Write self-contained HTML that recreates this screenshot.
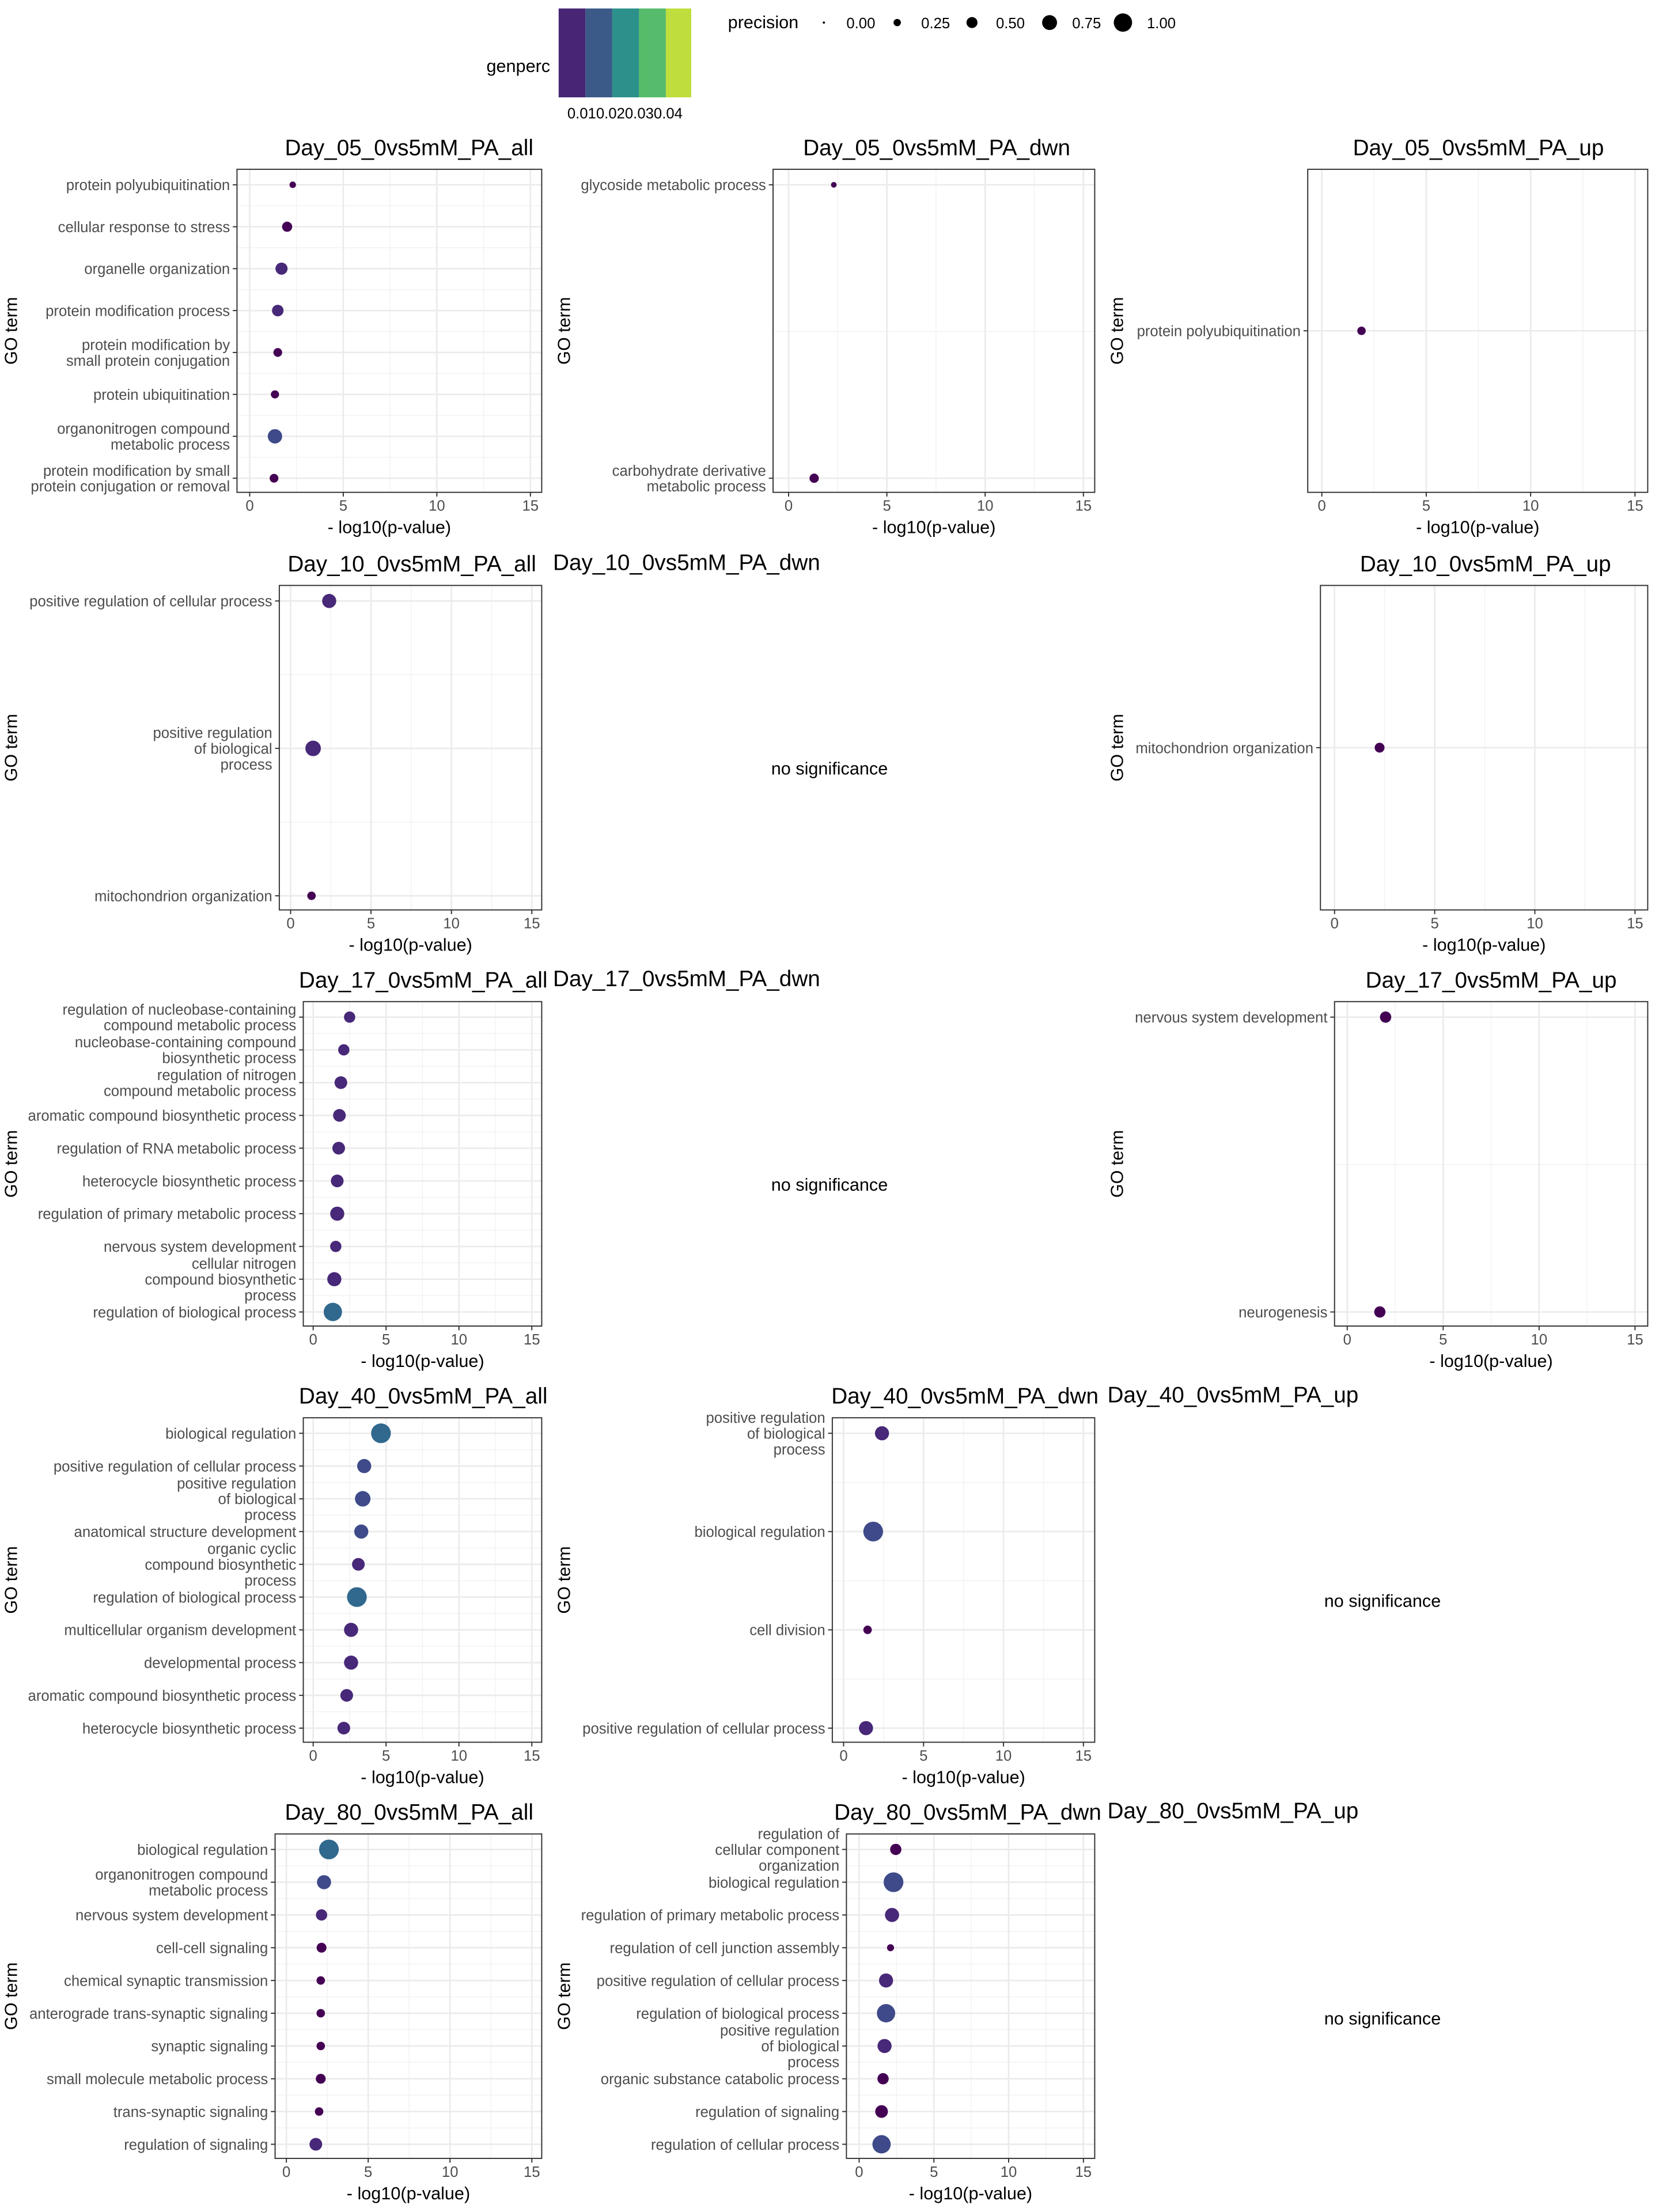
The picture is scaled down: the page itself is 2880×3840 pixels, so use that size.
<!DOCTYPE html>
<html><head><meta charset="utf-8"><style>
html,body{margin:0;padding:0;background:#fff}
svg{display:block}
.lab{font-family:"Liberation Sans Narrow","Liberation Sans",sans-serif;font-size:10.5px;fill:#4d4d4d}
.tk{font-family:"Liberation Sans Narrow","Liberation Sans",sans-serif;font-size:10.5px;fill:#4d4d4d}
.ttl{font-family:"Liberation Sans",sans-serif;font-size:15.8px;fill:#000}
.ax{font-family:"Liberation Sans",sans-serif;font-size:12.5px;fill:#000}
</style></head><body>
<svg id="s" width="2880" height="3840" viewBox="0 0 1176 1568" xmlns="http://www.w3.org/2000/svg">
<rect width="1176" height="1568" fill="#fff"/>
<text class="ax" x="390" y="51" text-anchor="end">genperc</text>
<rect x="396" y="6" width="19" height="63" fill="#482575"/>
<rect x="415" y="6" width="19" height="63" fill="#3b5a87"/>
<rect x="434" y="6" width="19" height="63" fill="#2b918a"/>
<rect x="453" y="6" width="19" height="63" fill="#56bc6b"/>
<rect x="472" y="6" width="18" height="63" fill="#bfde3d"/>
<text class="tk" x="443" y="84" text-anchor="middle" style="fill:#000">0.010.020.030.04</text>
<text class="ax" x="516" y="20">precision</text>
<circle cx="584" cy="16" r="0.8" fill="#000"/><text class="tk" x="600" y="20" style="fill:#000">0.00</text>
<circle cx="636" cy="16" r="2.6" fill="#000"/><text class="tk" x="653" y="20" style="fill:#000">0.25</text>
<circle cx="689" cy="16" r="3.9" fill="#000"/><text class="tk" x="706" y="20" style="fill:#000">0.50</text>
<circle cx="744" cy="16" r="5.3" fill="#000"/><text class="tk" x="760" y="20" style="fill:#000">0.75</text>
<circle cx="796" cy="16" r="6.5" fill="#000"/><text class="tk" x="813" y="20" style="fill:#000">1.00</text>
<g id="g"></g>
</svg>
<script>
var NS="http://www.w3.org/2000/svg",G=document.getElementById("g");
function el(t,a,txt){var e=document.createElementNS(NS,t);for(var k in a)e.setAttribute(k,a[k]);if(txt!=null)e.textContent=txt;G.appendChild(e);return e;}
var C1="#440154",C2="#482878",C3="#3e4a89",C4="#31688e";
function panel(p){
 var bx0=p.x0,bx1=p.x1,by0=p.y0,by1=p.y1,z=p.z,f=p.f,sc=(f-z)/15;
 el("text",{class:"ttl",x:p.tx,y:by0-10,"text-anchor":"middle"},p.title);
 var n=p.labs.length,top=by0+11,bot=by1-10,ys=[];
 for(var i=0;i<n;i++)ys.push(n==1?(by0+by1)/2:top+(bot-top)*i/(n-1));
 [2.5,7.5,12.5].forEach(function(v){el("line",{x1:z+v*sc,x2:z+v*sc,y1:by0,y2:by1,stroke:"#f2f2f2","stroke-width":0.6});});
 if(n>1)for(var i=0;i<n-1;i++){var yy=(ys[i]+ys[i+1])/2;el("line",{x1:bx0,x2:bx1,y1:yy,y2:yy,stroke:"#f2f2f2","stroke-width":0.6});}
 [0,5,10,15].forEach(function(v){el("line",{x1:z+v*sc,x2:z+v*sc,y1:by0,y2:by1,stroke:"#ebebeb","stroke-width":1.1});});
 ys.forEach(function(y){el("line",{x1:bx0,x2:bx1,y1:y,y2:y,stroke:"#ebebeb","stroke-width":1.1});});
 el("rect",{x:bx0,y:by0,width:bx1-bx0,height:by1-by0,fill:"none",stroke:"#333","stroke-width":0.8});
 [0,5,10,15].forEach(function(v){var x=z+v*sc;el("line",{x1:x,x2:x,y1:by1,y2:by1+3,stroke:"#333","stroke-width":0.8});el("text",{class:"tk",x:x,y:by1+13,"text-anchor":"middle"},""+v);});
 ys.forEach(function(y,i){el("line",{x1:bx0-3,x2:bx0,y1:y,y2:y,stroke:"#333","stroke-width":0.8});
  var L=p.labs[i].split("\n"),lh=11.2,y0=y+3.8-(L.length-1)*lh/2;
  L.forEach(function(s,j){el("text",{class:"lab",x:bx0-5,y:y0+j*lh,"text-anchor":"end"},s);});});
 p.pts.forEach(function(q,i){el("circle",{cx:z+q[0]*sc,cy:ys[i],r:q[1],fill:q[2]||C2});});
 el("text",{class:"ax",x:(bx0+bx1)/2,y:by1+29,"text-anchor":"middle"},"- log10(p-value)");
 var gx=p.gx||12;el("text",{class:"ax",x:gx,y:(by0+by1)/2,"text-anchor":"middle",transform:"rotate(-90 "+gx+" "+(by0+by1)/2+")"},"GO term");
}
function nosig(tx,ty,title,cy){el("text",{class:"ttl",x:tx,y:ty},title);el("text",{class:"ax",x:tx==392?588:980,y:cy,"text-anchor":"middle"},"no significance");}
panel({x0:168,x1:384,y0:120,y1:349,z:177,f:376,tx:290,title:"Day_05_0vs5mM_PA_all",
 labs:["protein polyubiquitination","cellular response to stress","organelle organization","protein modification process","protein modification by \nsmall protein conjugation","protein ubiquitination","organonitrogen compound \nmetabolic process","protein modification by small \nprotein conjugation or removal"],
 pts:[[2.3,2.3,C1],[2.0,3.6,C1],[1.7,4.3,C2],[1.5,4.1,C2],[1.5,3.1,C1],[1.35,2.9,C1],[1.35,5.1,C3],[1.3,3.1,C1]]});
panel({x0:548,x1:776,y0:120,y1:349,z:559,f:768,tx:664,gx:404,title:"Day_05_0vs5mM_PA_dwn",
 labs:["glycoside metabolic process","carbohydrate derivative\nmetabolic process"],pts:[[2.3,2,C1],[1.3,3.3,C1]]});
panel({x0:927,x1:1168,y0:120,y1:349,z:937,f:1159,tx:1048,gx:796,title:"Day_05_0vs5mM_PA_up",
 labs:["protein polyubiquitination"],pts:[[1.9,3,C1]]});
panel({x0:198,x1:384,y0:415,y1:645,z:206,f:377,tx:292,title:"Day_10_0vs5mM_PA_all",
 labs:["positive regulation of cellular process","positive regulation\nof biological\nprocess","mitochondrion organization"],
 pts:[[2.4,5,C2],[1.4,5.5,C2],[1.3,3,C1]]});
nosig(392,404,"Day_10_0vs5mM_PA_dwn",549);
panel({x0:936,x1:1168,y0:415,y1:645,z:946,f:1159,tx:1053,gx:796,title:"Day_10_0vs5mM_PA_up",
 labs:["mitochondrion organization"],pts:[[2.25,3.5,C1]]});
panel({x0:215,x1:384,y0:710,y1:940,z:222,f:377,tx:300,title:"Day_17_0vs5mM_PA_all",
 labs:["regulation of nucleobase-containing\ncompound metabolic process","nucleobase-containing compound\nbiosynthetic process","regulation of nitrogen\ncompound metabolic process","aromatic compound biosynthetic process","regulation of RNA metabolic process","heterocycle biosynthetic process","regulation of primary metabolic process","nervous system development","cellular nitrogen\ncompound biosynthetic\nprocess","regulation of biological process"],
 pts:[[2.5,4,C2],[2.1,4,C2],[1.9,4.5,C2],[1.8,4.5,C2],[1.75,4.5,C2],[1.65,4.5,C2],[1.65,5,C2],[1.55,4,C2],[1.45,5,C2],[1.35,6.5,C4]]});
nosig(392,699,"Day_17_0vs5mM_PA_dwn",844);
panel({x0:946,x1:1168,y0:710,y1:940,z:955,f:1159,tx:1057,gx:796,title:"Day_17_0vs5mM_PA_up",
 labs:["nervous system development","neurogenesis"],pts:[[2.0,4,C1],[1.7,4,C1]]});
panel({x0:215,x1:384,y0:1005,y1:1235,z:222,f:377,tx:300,title:"Day_40_0vs5mM_PA_all",
 labs:["biological regulation","positive regulation of cellular process","positive regulation\nof biological\nprocess","anatomical structure development","organic cyclic\ncompound biosynthetic\nprocess","regulation of biological process","multicellular organism development","developmental process","aromatic compound biosynthetic process","heterocycle biosynthetic process"],
 pts:[[4.65,7,C4],[3.5,5,C3],[3.4,5.5,C3],[3.3,5,C3],[3.1,4.5,C2],[3.0,7,C4],[2.6,5,C2],[2.6,5,C2],[2.3,4.5,C2],[2.1,4.5,C2]]});
panel({x0:590,x1:776,y0:1005,y1:1235,z:598,f:768,tx:684,gx:404,title:"Day_40_0vs5mM_PA_dwn",
 labs:["positive regulation\nof biological\nprocess","biological regulation","cell division","positive regulation of cellular process"],
 pts:[[2.4,5,C2],[1.85,7,C3],[1.5,3,C1],[1.4,5,C2]]});
nosig(785,994,"Day_40_0vs5mM_PA_up",1139);
panel({x0:195,x1:384,y0:1300,y1:1530,z:203,f:377,tx:290,title:"Day_80_0vs5mM_PA_all",
 labs:["biological regulation","organonitrogen compound \nmetabolic process","nervous system development","cell-cell signaling","chemical synaptic transmission","anterograde trans-synaptic signaling","synaptic signaling","small molecule metabolic process","trans-synaptic signaling","regulation of signaling"],
 pts:[[2.6,7,C4],[2.3,5,C3],[2.15,4,C2],[2.15,3.5,C1],[2.1,3,C1],[2.1,3,C1],[2.1,3,C1],[2.1,3.5,C1],[2.0,3,C1],[1.8,4.5,C2]]});
panel({x0:600,x1:776,y0:1300,y1:1530,z:609,f:768,tx:686,gx:404,title:"Day_80_0vs5mM_PA_dwn",
 labs:["regulation of\ncellular component \norganization","biological regulation","regulation of primary metabolic process","regulation of cell junction assembly","positive regulation of cellular process","regulation of biological process","positive regulation\nof biological \nprocess","organic substance catabolic process","regulation of signaling","regulation of cellular process"],
 pts:[[2.45,4,C1],[2.3,7,C3],[2.2,5,C2],[2.1,2.5,C1],[1.8,5,C2],[1.8,6.5,C3],[1.7,5,C2],[1.6,4,C1],[1.5,4.5,C1],[1.5,6.5,C3]]});
nosig(785,1289,"Day_80_0vs5mM_PA_up",1435);
</script>
</body></html>
